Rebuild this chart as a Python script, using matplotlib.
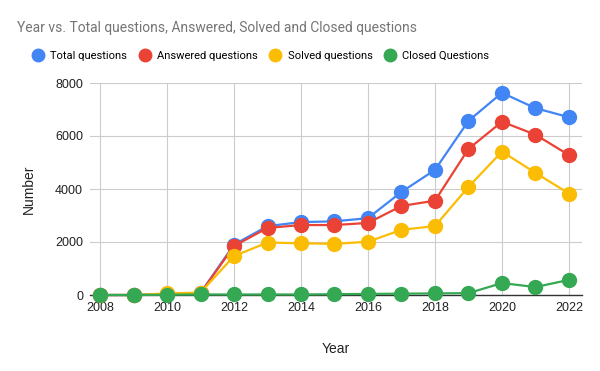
import matplotlib
matplotlib.use("Agg")
import matplotlib.pyplot as plt
from matplotlib.lines import Line2D

years = list(range(2008, 2023))
total = [0, 0, 40, 80, 1900, 2600, 2750, 2780, 2900, 3890, 4720, 6570, 7630, 7050, 6710]
answered = [0, 0, 30, 70, 1850, 2530, 2640, 2640, 2720, 3360, 3560, 5510, 6540, 6050, 5280]
solved = [0, 0, 60, 90, 1470, 1980, 1950, 1930, 2010, 2460, 2600, 4080, 5410, 4610, 3830]
closed = [0, 0, 10, 20, 20, 20, 20, 30, 40, 50, 60, 70, 450, 300, 570]
series_names = ["Total questions", "Answered questions", "Solved questions", "Closed Questions"]
colors = ["#4285F4", "#EA4335", "#FBBC04", "#34A853"]
yticks = [0, 2000, 4000, 6000, 8000]
xticks = [2008, 2010, 2012, 2014, 2016, 2018, 2020, 2022]

plt.rcParams['font.family'] = ['Liberation Sans', 'DejaVu Sans']

fig = plt.figure(figsize=(6, 3.71), dpi=100)
ax = fig.add_axes([90/600, 76/371, 492/600, 212/371])

for vals, c, n in zip([total, answered, solved, closed], colors, series_names):
    ax.plot(years, vals, color=c, lw=1.6, marker='o', ms=10, label=n, zorder=3, clip_on=False)

ax.set_xlim(2007.70, 2022.39)
ax.set_ylim(0, 8000)
ax.set_yticks(yticks)
ax.set_yticklabels([str(v) for v in yticks])
ax.set_xticks(xticks)
ax.set_xticklabels([str(v) for v in xticks])
ax.grid(True, color="#cccccc", lw=0.8)
for s in ['top', 'right', 'left']:
    ax.spines[s].set_visible(False)
ax.spines['bottom'].set_color('#333333')
ax.spines['bottom'].set_linewidth(1.0)
ax.spines['bottom'].set_zorder(2)
ax.tick_params(axis='both', length=0, labelsize=9, colors='#222222', pad=5)
ax.set_axisbelow(True)

ax.set_xlabel("Year", fontsize=10, color='#222222', labelpad=20)
ax.set_ylabel("Number", fontsize=10, color='#222222', labelpad=14)

fig.text(17/600, 1 - 28/371, "Year vs. Total questions, Answered, Solved and Closed questions",
         fontsize=10, color='#757575', va='center', ha='left', family=['Roboto', 'DejaVu Sans'])

handles = [Line2D([0], [0], marker='o', color='w', markerfacecolor=c, markeredgecolor=c, ms=9, lw=0)
           for c in colors]
fig.legend(handles, series_names, loc='center left', bbox_to_anchor=(21/600, 1 - 56/371),
           ncol=4, frameon=False, prop={'family': ['Roboto', 'DejaVu Sans'], 'size': 8},
           handletextpad=0.5, columnspacing=1.0, handlelength=1.2)

fig.savefig("out.png", dpi=100)
